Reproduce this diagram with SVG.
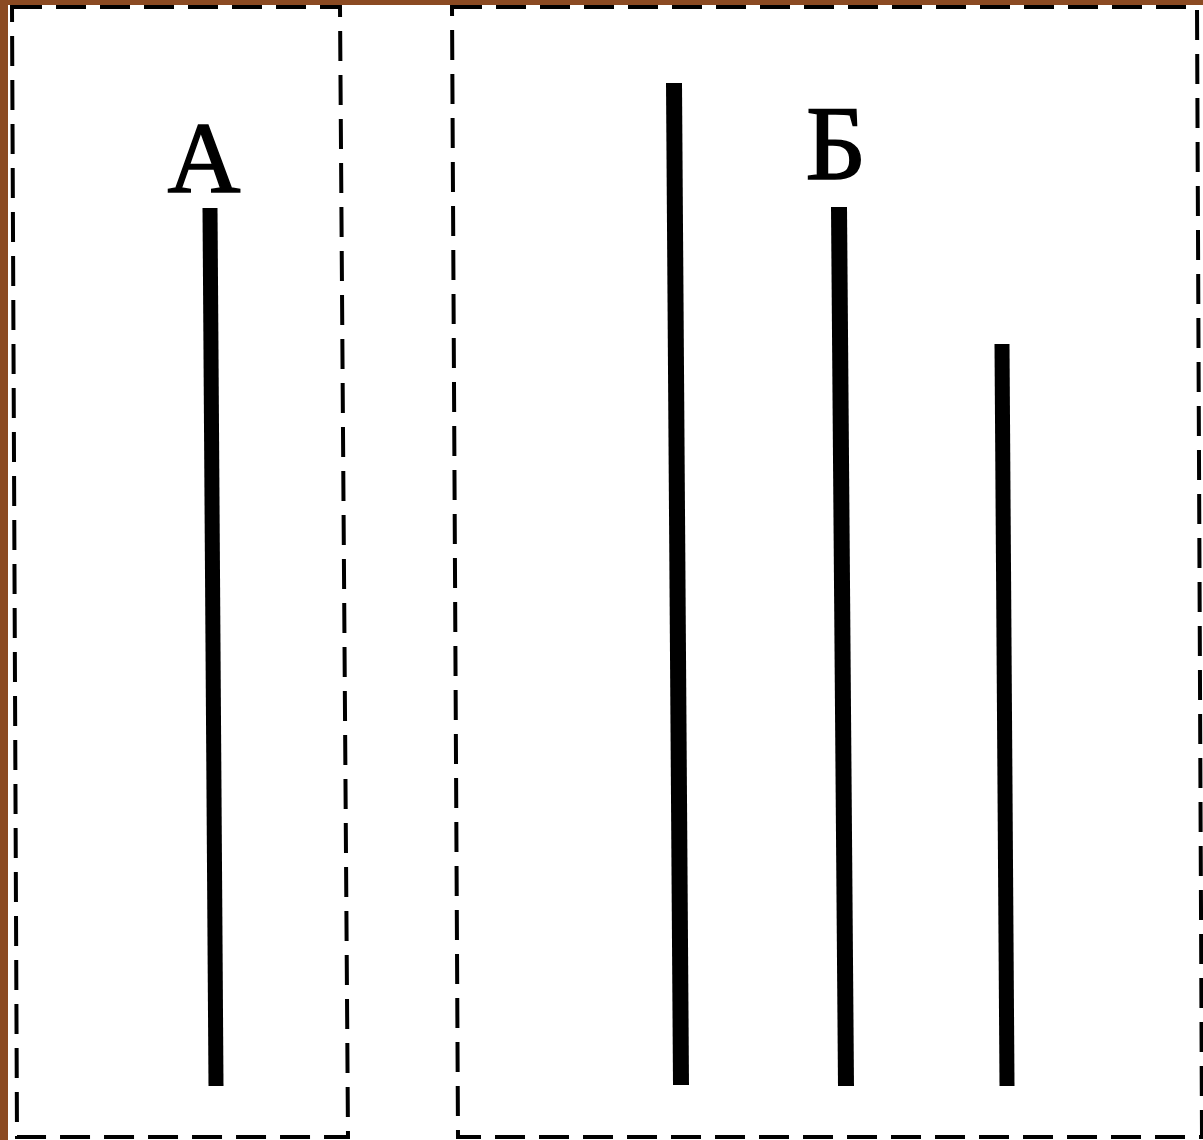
<svg xmlns="http://www.w3.org/2000/svg" width="1203" height="1140" viewBox="0 0 1203 1140">
<style>
.frame{fill:#fff;stroke:#000;stroke-width:4;stroke-dasharray:30 14}
.bar{stroke:#000;stroke-width:15;stroke-linecap:butt;fill:none}
.lbl{font-family:"Liberation Serif","Times New Roman",serif;fill:#000;text-anchor:middle;stroke:#000;stroke-width:1.5}
</style>
<rect x="0" y="0" width="1203" height="1140" fill="#fff"/>
<rect x="0" y="0" width="1203" height="5" fill="#8B4A22"/>
<rect x="0" y="0" width="8" height="1140" fill="#8B4A22"/>
<g id="panelA">
<polygon class="frame" points="12,7 340,7 348,1137 17,1137"/>
<text class="lbl" x="204" y="192" font-size="101">А</text>
<line class="bar" x1="210" y1="208" x2="216" y2="1086"/>
</g>
<g id="panelB">
<polygon class="frame" points="452,7 1197,7 1202,1137 458,1137"/>
<text class="lbl" x="836" y="179" font-size="106">Б</text>
<line class="bar" x1="674" y1="83" x2="681" y2="1085" style="stroke-width:16"/>
<line class="bar" x1="839" y1="207" x2="846" y2="1086" style="stroke-width:16"/>
<line class="bar" x1="1002" y1="344" x2="1007" y2="1086"/>
</g>
<g id="connectors"/>
</svg>
